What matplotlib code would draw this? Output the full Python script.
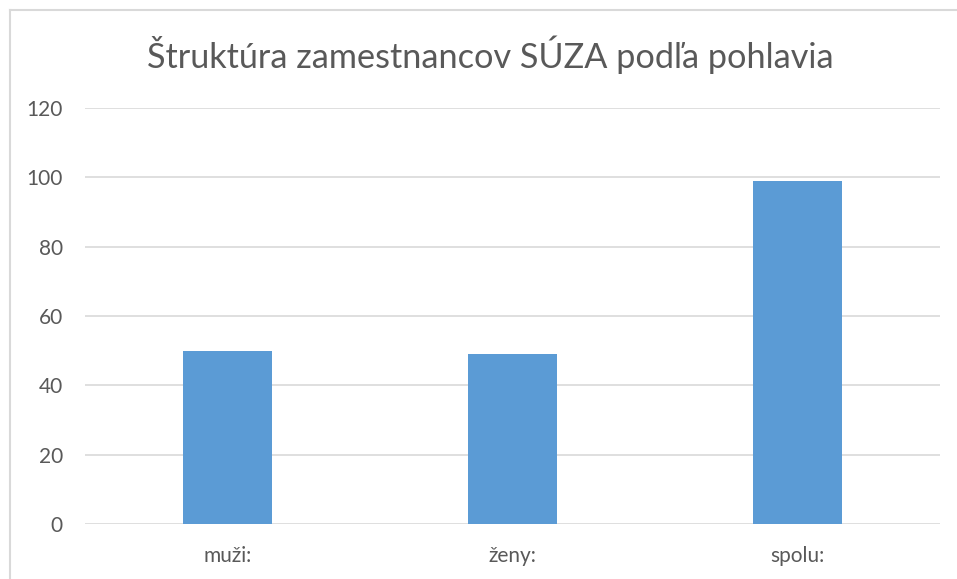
import matplotlib.pyplot as plt
from matplotlib.lines import Line2D

# data
categories = ['muži:', 'ženy:', 'spolu:']
counts = [50, 49, 99]
yticks = [0, 20, 40, 60, 80, 100, 120]

plt.rcParams['font.family'] = ['Lato', 'DejaVu Sans']

fig = plt.figure(figsize=(9.57, 5.79), dpi=100)
ax = fig.add_axes([85/957, 1-524/579, (940-85)/957, (524-108)/579])

x = range(len(categories))
ax.bar(x, counts, width=0.312, color='#5B9BD5', zorder=3)

ax.set_xlim(-0.5, 2.5)
ax.set_ylim(0, 120)
ax.set_yticks(yticks)
ax.set_xticks(list(x))
ax.set_xticklabels(categories)
ax.grid(axis='y', color='#D9D9D9', linewidth=1.2, zorder=0)
for s in ax.spines.values():
    s.set_visible(False)
ax.tick_params(length=0, labelsize=15, colors='#595959')
ax.tick_params(axis='y', pad=16)
ax.tick_params(axis='x', pad=16)

fig.text(490/957, 1-55/579, 'Štruktúra zamestnancov SÚZA podľa pohlavia',
         ha='center', va='center', fontsize=24.7, color='#595959')

# chart frame (only top and left edge visible in the crop)
fig.add_artist(Line2D([9.5/957, 9.5/957], [0, 1-10/579], transform=fig.transFigure,
                      color='#D9D9D9', linewidth=1.5))
fig.add_artist(Line2D([9.5/957, 1], [1-10/579, 1-10/579], transform=fig.transFigure,
                      color='#D9D9D9', linewidth=1.5))

fig.savefig('out.png', dpi=100)
